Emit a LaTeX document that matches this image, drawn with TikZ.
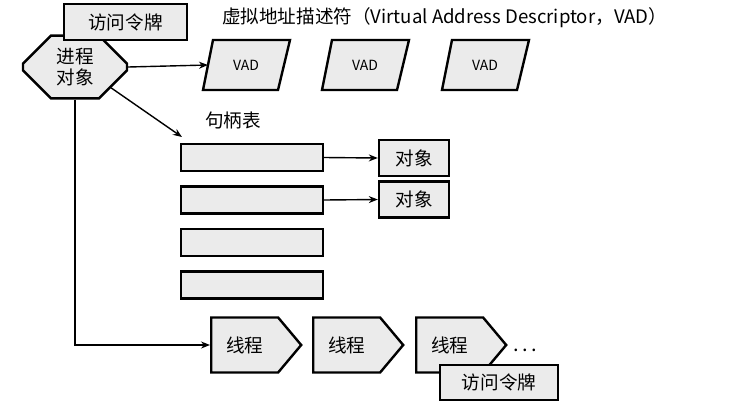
\documentclass[tikz,border=0pt]{standalone}
\usepackage{fontspec}
\setmainfont{Noto Sans CJK SC}
\usetikzlibrary{arrows.meta,shapes.misc,shapes.arrows}
\begin{document}
\begin{tikzpicture}[x=.5pt,y=-.5pt,
  box/.style={draw,line width=1.2pt,fill=black!8,inner sep=0pt,font=\fontsize{9.3}{10.5}\selectfont},
  thr/.style={box,single arrow,single arrow head extend=0pt,single arrow head indent=0pt,single arrow tip angle=100,minimum height=45pt,minimum width=27.5pt,anchor=west},
  row/.style={box,minimum width=71pt,minimum height=13.5pt},
  lnk/.style={line width=.7pt,-{Stealth[length=4.5pt,width=3.5pt]}}]
\useasboundingbox (0,0) rectangle (744,418);
\node[box,chamfered rectangle,chamfered rectangle xsep=6pt,chamfered rectangle ysep=8pt,inner ysep=-1.8pt,minimum width=52pt,minimum height=28pt,align=center] (proc) at (75,67) {进程\\对象};
\node[box,minimum width=61.5pt,minimum height=18pt] (tok) at (125.5,22) {访问令牌};
\node[anchor=west,font=\fontsize{9.3}{11}\selectfont] (ttl) at (215,18) {虚拟地址描述符（Virtual Address Descriptor，VAD）};
\foreach \i/\x in {1/246,2/365,3/485} {
  \draw[box] (\x-43,90) -- (\x+32,90) -- (\x+44,40) -- (\x-33,40) -- cycle;
  \node[font=\fontsize{7}{8}\selectfont] (v\i) at (\x,65) {VAD};
  \coordinate (e\i) at (\x-38,65);
}
\draw[lnk] (proc.east) -- (e1);
\node[font=\fontsize{9.3}{10.5}\selectfont] (hlbl) at (233,120) {句柄表};
\coordinate (hdl) at (182,137);
\draw[lnk] (proc.-30) -- (hdl);
\foreach \i/\y in {1/157.5,2/200,3/242.5,4/285} \node[row] (r\i) at (252,\y) {};
\foreach \i/\y in {1/158,2/199.5} {
  \node[box,minimum width=35pt,minimum height=18pt] (o\i) at (414,\y) {对象};
  \draw[lnk] (r\i.east) -- (o\i.west);
}
\foreach \i/\x in {1/210,2/312,3/415} \node[thr] (t\i) at (\x,345) {线程};
\draw[lnk] (proc.south) |- (t1.west);
\node (dots) at (525,350) {.\,.\,.};
\node[box,minimum width=59pt,minimum height=17.5pt] (tok2) at (499,382.5) {访问令牌};
\end{tikzpicture}
\end{document}
